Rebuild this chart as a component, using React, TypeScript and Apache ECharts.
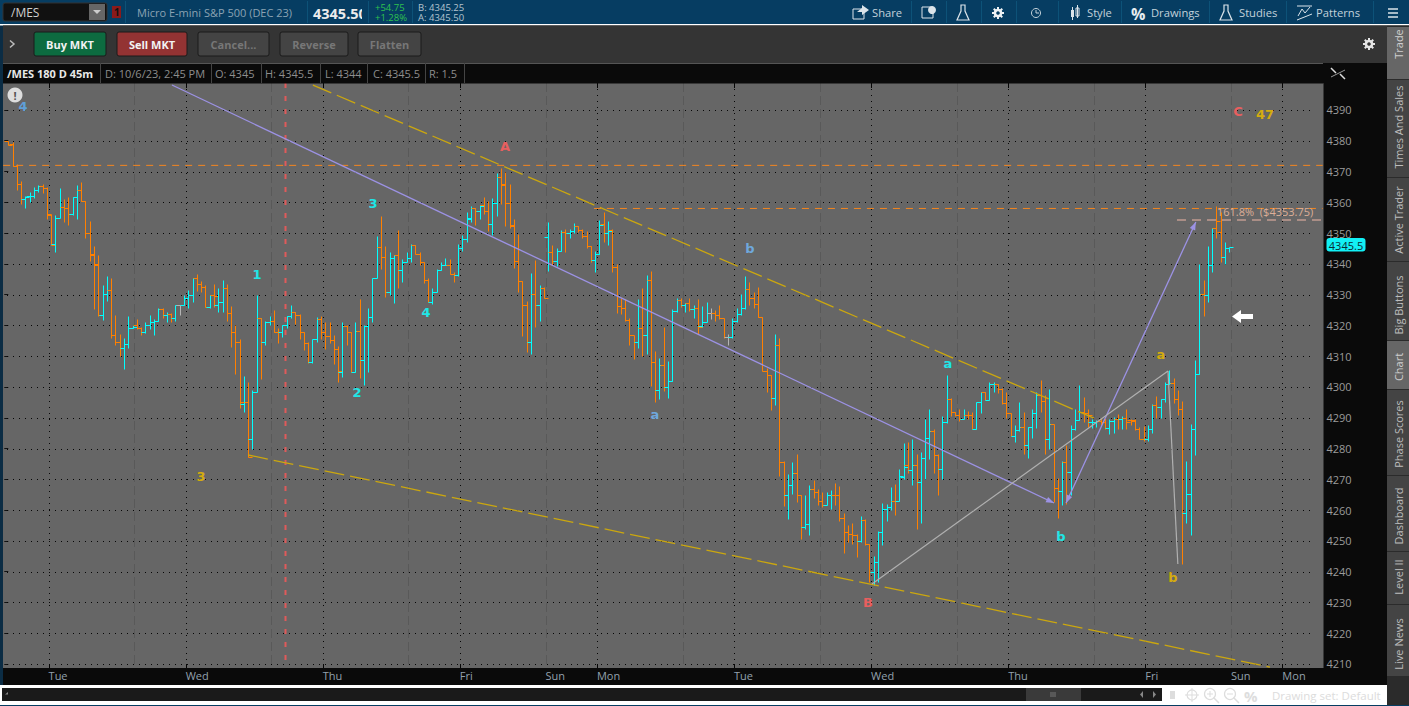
import React, { useEffect, useRef } from "react";
import * as echarts from "echarts";

type Bar = [number, number, number, number, string];
const o = "o", c = "c", g = "g";

// open, high, low, close, colour key
const barsWeek1A: Bar[] = [
[4380,4380,4378.5,4378.75,o],[4379,4379.5,4371.75,4371.75,o],[4371.75,4372.5,4364,4366,o],[4366,4367,4359.5,4361,o],
[4361,4362,4358,4361.75,c],[4362,4363.5,4360,4362,c],[4362,4365,4361.5,4364,c],[4364,4365.5,4363.5,4365.25,c],
[4365.25,4366,4363,4364.5,o],[4364.5,4365,4354.5,4356.25,o],[4356,4356.25,4346,4346.25,o],[4346.5,4355.75,4343.75,4355,c],
[4354.75,4364.75,4354.75,4358.5,c],[4358.5,4361,4353.75,4358,o],[4358,4361.75,4352.75,4356.25,o],[4356.25,4361.75,4356,4361.75,c],
[4361.75,4365.5,4354.5,4364,c],[4364,4366.75,4360.5,4360.5,o],[4360.5,4360.5,4348.25,4350,o],[4350,4354,4341,4343.25,o],
[4342.75,4345.75,4325.25,4340,o],[4339.75,4343,4323,4323.5,o],[4323.5,4333,4321.75,4330.25,c],[4330.25,4336,4328,4331.5,c],
[4331.5,4335.5,4316,4317,o],[4317,4323.5,4313.5,4314.75,o],[4314.5,4317.25,4310,4312.75,o],[4312.75,4316,4305.75,4314,c],
[4314,4323,4312.75,4319.25,c],[4319.25,4320,4319,4319.5,c],[4320,4322,4318.75,4319,o],[4319,4319.5,4317,4318,o],
[4318,4321,4317.5,4320,c],[4320,4323.5,4318.75,4321,c],[4321,4322,4317,4321.5,c],[4321.5,4325.5,4321.5,4325.25,c],
[4325.25,4325.75,4322.5,4323.5,o],[4323.5,4324.5,4321.25,4323.75,c],[4323.75,4324,4321.25,4322.5,o],[4322.5,4326.75,4321.5,4326.75,c],
[4326.75,4326.75,4323.5,4326.75,g],[4326.75,4330,4326.5,4329,c],[4329,4331.5,4325.5,4330,c],[4330,4335.5,4327.5,4335.5,c],
[4335.5,4336.75,4331.25,4333.5,o],[4333.5,4334.5,4330.75,4332.5,o],[4332.5,4333.25,4326,4326,o],[4326,4330,4325.5,4330,c],
[4330,4333.5,4326,4329.5,o],[4326.75,4332,4324.25,4327.5,c],[4327.75,4334.75,4324.25,4332,c],[4332,4333.5,4321.5,4324,o],
[4324,4326.25,4313,4318,o],
];
const barsWeek1B: Bar[] = [
[4318,4320,4304.25,4314.75,o],[4314.75,4315.75,4293.25,4295,o],[4294.5,4303.5,4292,4295.25,c],[4295,4301.5,4277.25,4277.25,o],
[4283,4299,4280,4298.25,c],[4298.25,4330,4298.25,4322.25,c],[4322.25,4322.25,4302.5,4314.75,o],[4314.75,4321.5,4313.5,4321.25,c],
[4321,4323,4320.25,4321.5,c],[4321.5,4325,4318,4318,o],[4318,4319.25,4314.25,4318,o],[4318,4320.25,4316.25,4320,c],
[4320,4323,4319.25,4323,c],[4323,4326.5,4322.25,4324.5,c],[4324.5,4324.5,4320.5,4323.25,o],[4323.25,4323.75,4315.5,4318,o],
[4318,4318,4312,4314.25,o],[4314.25,4314.75,4307.75,4308,o],[4308,4315.75,4307.75,4315.5,c],[4315.5,4322.75,4314.5,4322,c],
[4322,4323,4315.5,4317.75,o],[4317.75,4321.25,4312.25,4316.5,o],[4316.5,4321.25,4314.25,4315.25,o],[4315.25,4316.75,4307.5,4312.25,o],
[4312.25,4313.25,4301.5,4305.25,o],[4305,4321.25,4303.25,4319.75,c],[4319.75,4320.25,4313.5,4317.75,o],[4317.75,4317.75,4305,4305,o],
[4305,4321.25,4305,4318.25,c],[4318.25,4328.5,4303,4308.75,o],[4308.75,4320,4300.5,4319.75,c],[4319.75,4325.5,4305,4322.75,c],
[4322.75,4335.5,4321,4335.5,c],[4335.5,4349,4335.5,4345.5,c],[4345.5,4355.5,4338.25,4342.25,o],[4342.25,4345.75,4329.25,4330.75,o],
[4330.75,4344,4330,4341.75,c],[4341.75,4343,4327.25,4342.75,c],[4342.75,4351,4332.25,4338,o],[4338,4341.5,4334.25,4340.75,c],
[4340.75,4343.75,4340.5,4341.75,c],[4341.75,4346.5,4340.5,4346.25,c],[4346.25,4346.25,4343.25,4343.25,o],[4343.25,4344,4339.75,4340.5,o],
[4340.5,4340.5,4333.75,4334.75,o],[4334.75,4335.25,4327.5,4327.75,o],[4327.75,4332,4327,4331,c],[4331,4338.25,4331,4338,c],
[4338,4340.5,4338,4339.5,c],[4339.5,4341.75,4339.5,4339.75,c],[4339.75,4341.5,4336.75,4336.75,o],[4336.75,4337.5,4334.25,4336.25,o],
[4336.25,4346.5,4336,4345,c],[4345,4349.25,4344.25,4348,c],[4348,4357,4347.25,4354.5,c],
];
const barsFriSun: Bar[] = [
[4354.75,4358.75,4353.5,4358,c],[4358,4358,4352.5,4357.25,o],[4357.25,4359,4354.5,4358.75,c],[4359,4361.75,4356.25,4357.25,o],
[4357.25,4360.5,4350.75,4353,o],[4353,4361.25,4349.5,4359.75,c],[4359.75,4369.5,4355.5,4368.25,c],[4368.25,4371,4359.5,4365.75,o],
[4366,4370,4352.25,4359.75,o],[4359.75,4366,4351.5,4352.25,o],[4352.5,4354.5,4338.5,4341,o],[4341,4349.75,4330.75,4334.5,o],
[4334.5,4334.5,4316.5,4326.75,o],[4326.75,4328,4311.5,4314.75,o],[4314.75,4337,4310.75,4330.25,c],[4330.25,4341.25,4319.5,4326.5,o],
[4326.5,4333,4321.5,4332.25,c],[4332.25,4332.5,4329,4329,o],
[4348.75,4353.75,4337.75,4343.75,c],[4343.75,4346.25,4339.5,4341,o],[4341,4345.25,4339.25,4344.25,c],[4344.25,4351,4344.25,4350.25,c],
[4350.25,4351.25,4343.75,4350,o],[4350,4351.25,4348.5,4350.75,c],[4350.75,4353.25,4350,4352.25,c],[4352.25,4352.25,4350.25,4351,o],
[4351,4351.25,4348.25,4349,o],[4349,4350.75,4345,4345.75,o],[4345.75,4345.75,4340.75,4341.25,o],[4341.25,4344.25,4337.25,4343.25,c],
[4343.25,4354.25,4343.25,4352.75,c],[4353,4356.75,4347,4350,o],[4350,4354,4346.25,4350.75,c],[4351,4351.25,4337.5,4339,o],
[4339,4340,4324,4326.25,o],[4326.25,4329,4323.75,4325.75,o],[4325.75,4328.5,4321.5,4321.75,o],[4321.75,4322.25,4313.5,4317,o],
[4317,4317,4309.25,4314.75,o],[4314.75,4328.5,4312.75,4319,c],[4319,4332,4310,4317,o],[4317,4336.5,4310.75,4334.75,c],
[4334.75,4337.75,4300.25,4308,o],[4308,4311.75,4295,4299,o],[4299,4309.5,4296.25,4307.25,c],[4307.25,4319.5,4298.75,4300,o],
[4300,4308.5,4296.5,4302,c],[4302,4325.25,4302,4324.75,c],[4324.75,4329,4324.25,4328.25,c],
];
const barsWeek2A: Bar[] = [
[4328.25,4328.75,4326.1,4326.5,o],[4326.5,4327.25,4324.5,4327.25,c],[4327.25,4329,4324.75,4325.25,o],[4325.25,4326.75,4322.5,4325.5,c],
[4325.5,4328.5,4317.25,4319.5,o],[4319.75,4326.25,4319.5,4321,c],[4321,4327.5,4321,4324,c],[4324,4325.75,4322,4324,g],
[4324,4325,4321.5,4323.5,o],[4323.5,4326.75,4322,4322.25,o],[4322.25,4322.25,4316,4316.25,o],[4316.25,4317.25,4313.5,4316.25,g],
[4316.25,4322.25,4316,4321.5,c],[4321.5,4325.5,4321.25,4323.75,c],[4323.75,4330.25,4323.5,4325.5,c],[4325.5,4336,4325.25,4331.75,c],
[4331.75,4334,4326.75,4329,o],[4329,4330.75,4325.75,4327,o],[4327,4332.5,4322.75,4322.75,o],[4322.75,4322.75,4305.25,4305.25,o],
[4305.25,4306.25,4298.5,4303.75,o],[4303.75,4303.75,4292.5,4296.5,o],[4296.5,4317.25,4294,4313.75,c],[4313.75,4316,4271,4275.75,o],
[4275.75,4276,4261.25,4265,o],[4265,4271.75,4257,4268.25,c],[4268.25,4275.75,4265.25,4272,c],[4272,4278.25,4262.5,4265,o],
[4265,4265,4250.75,4254.5,o],[4254.5,4265,4254,4255.5,c],[4255.5,4268,4252,4267,c],[4267,4269.75,4264,4265.75,o],
[4265.75,4267,4261.75,4263,o],[4263,4265.75,4261,4261.75,o],[4261.75,4265.75,4261.5,4265,c],[4265,4266.5,4260.5,4265,c],
[4265,4268.75,4261.5,4265,o],[4265,4267.75,4256.5,4257.5,o],[4257.5,4259,4246,4252.75,o],[4252.75,4255.25,4249.75,4252.25,o],
[4252.25,4255.75,4249,4252,o],[4252,4252.25,4244.75,4250,o],[4250,4258,4249.5,4256.75,c],[4256.75,4257.25,4248.5,4249,o],
[4249,4249,4236.75,4239.75,o],[4239.75,4245.25,4235.75,4243.25,c],[4243.25,4253.25,4236.5,4253,c],[4253,4262.25,4248.5,4260.5,c],
[4260.5,4262,4256.5,4261,c],[4261,4267.5,4260,4263,c],[4263,4268.5,4258.25,4263,o],[4263,4273.5,4263,4271,c],
[4270.75,4281.75,4270.25,4274,c],[4274.5,4282,4272,4273,o],
];
const barsWeek2B: Bar[] = [
[4273,4283,4268,4274.75,c],[4274.75,4278.25,4254,4269.25,o],[4269.25,4278.75,4255.75,4277,c],[4277,4289.5,4270.25,4283.5,c],
[4283.5,4293,4276.5,4285.75,c],[4285.75,4286.25,4272,4277.75,o],[4277.75,4278.25,4264.75,4273.5,o],[4273.5,4290.5,4270,4288.5,c],
[4288.5,4303.75,4288.25,4296.25,c],[4296.25,4296.5,4290.5,4292,o],[4292,4292,4290.5,4291,o],[4291,4292.75,4289,4289.75,o],
[4289.75,4292.75,4289.75,4291,c],[4291,4292.25,4289.75,4290.75,o],[4290.75,4292,4286.25,4286.5,o],[4286.5,4295.25,4286.5,4295,c],
[4295,4298.5,4291.5,4298.25,c],[4298.25,4298.25,4295.75,4295.75,o],[4295.75,4301.75,4295.75,4301,c],[4301,4301.5,4298.5,4301,c],
[4301,4301,4298,4299.25,o],[4299.25,4299.75,4294.5,4294.75,o],[4294.75,4298.25,4290,4291.5,o],[4291.5,4291.5,4284,4284,o],
[4284,4287.75,4282,4286,c],[4286,4295.25,4285.75,4287,c],[4287,4292,4278.25,4281.25,o],[4281.25,4287,4277,4287,c],
[4287,4292.75,4283.5,4291.5,c],[4291.5,4298.25,4286.75,4297.5,c],[4297.5,4302.25,4291.75,4295.5,o],[4295.5,4297.25,4278.25,4283.25,o],
[4283.25,4299.5,4279.75,4288,c],[4288,4288,4262.5,4267.25,o],[4267.25,4270.5,4257.5,4266.25,o],[4266.25,4276,4261.5,4275.5,c],
[4275.5,4281,4262,4272.5,o],[4272.5,4287.5,4264.75,4286.5,c],[4286.5,4292.75,4286,4289.25,c],[4289.25,4300.5,4289.25,4292,c],
[4292,4296.75,4288.5,4291.5,o],[4291.5,4292.75,4287,4291,o],[4288.75,4289.5,4286.75,4288.75,c],[4288.75,4289.25,4287,4289,c],
[4289,4290,4287.5,4288.75,o],[4288.75,4290,4286.5,4286.75,o],[4286.75,4289.5,4284.75,4289,c],[4289,4290.25,4285,4289.75,c],
[4289.75,4291.25,4286.25,4289.75,o],[4289.75,4290.5,4286.5,4290,c],[4290,4292.75,4286.25,4288.5,o],
];
const barsFinal: Bar[] = [
[4289.25,4289.75,4287.5,4289.25,o],[4289,4289.5,4286,4286.5,o],[4286.5,4287,4283,4283.25,o],[4283.25,4287.25,4282.5,4283,o],
[4283,4287.75,4282.5,4286.5,c],[4286.5,4294.5,4285,4294.25,c],[4294.25,4297,4290,4293.5,o],[4293.5,4296.25,4290,4296,c],
[4296,4301.5,4295.25,4301,c],[4301,4305.5,4301,4301.25,c],[4301.25,4303,4294.75,4296.25,o],[4296.25,4299,4290.75,4293,o],
[4293,4295.5,4242.5,4259,o],[4259,4276,4255.75,4265.25,c],[4265.25,4288,4251.75,4286.25,c],[4286.25,4308.75,4278,4304.25,c],
[4304.25,4340,4304.25,4330.25,c],[4330.25,4334.75,4323,4329.75,o],[4329.75,4345.75,4327.5,4339.5,c],[4339.5,4351.75,4337.25,4351.75,c],
[4351.75,4358.75,4348.5,4354,o],[4350.5,4356.75,4340.5,4342.25,o],[4342.25,4347,4340,4345.25,c],[4345,4345.5,4344,4345.5,c],
];

const dayLabels = ["Tue","Wed","Thu","Fri","Sun","Mon","Tue","Wed","Thu","Fri","Sun","Mon"];
const dayIndex = [9.4,41.4,73.4,105.4,125.4,137.4,169.4,201.4,233.4,265.4,285.4,297.4];
const dayDotted = [9.4,41.4,73.4,105.4,137.4,169.4,201.4,233.4,265.4,297.4];
const sessionDashed = [29.4,61.4,93.4,125.4,157.4,189.4,221.4,253.4,285.4];
const tickPrices = [4210,4220,4230,4240,4250,4260,4270,4280,4290,4300,4310,4320,4330,4340,4350,4360,4370,4380,4390];
const redLineIndex = 64.7;

// x1, price1, x2, price2, style name
const trendLines: [number, number, number, number, string][] = [
  [56, 4277.9, 294.5, 4209, "yellow"],
  [71.1, 4398.1, 253.4, 4289.9, "yellow"],
  [-1.2, 4372, 306.8, 4372, "orange"],
  [136.7, 4358, 306.8, 4358, "orange"],
  [272.8, 4354.25, 306.8, 4354.25, "salmon"],
  [38.2, 4398.1, 244.1, 4262.3, "purpleEnd"],
  [246.9, 4262.3, 277.2, 4353.6, "purpleBoth"],
  [201.6, 4236, 270.7, 4305.2, "gray"],
  [270.7, 4305.2, 273, 4242.5, "gray"],
];
const trendStyles: any = {
  yellow: { stroke: "#cba70f", lineWidth: 1.3, lineDash: [20, 6] },
  orange: { stroke: "#f5861f", lineWidth: 1, lineDash: [7, 6] },
  salmon: { stroke: "#eeb5a5", lineWidth: 1, lineDash: [9, 6] },
  purpleEnd: { stroke: "#9c92e4", lineWidth: 1.3, arrowEnd: true },
  purpleBoth: { stroke: "#9c92e4", lineWidth: 1.3, arrowEnd: true, arrowStart: true },
  gray: { stroke: "#b0b0b0", lineWidth: 1.2 },
};

const waveLabels: [string, number, number, string][] = [
  ["4", 23, 106, "#5f9fd8"], ["A", 505, 146, "#e85f5f"], ["C", 1238, 111, "#e85f5f"], ["47", 1265, 114, "#d4ac0d"],
  ["1", 257, 274, "#1fe6e6"], ["2", 357, 392, "#1fe6e6"], ["3", 373, 203, "#1fe6e6"], ["4", 426, 312, "#1fe6e6"],
  ["3", 201, 476, "#d4ac0d"], ["a", 655, 414, "#6fa8dc"], ["b", 750, 248, "#6fa8dc"], ["a", 948, 363, "#1fe6e6"],
  ["b", 1061, 536, "#1fe6e6"], ["B", 868, 602, "#e85f5f"], ["a", 1161, 354, "#d4ac0d"], ["b", 1173, 577, "#d4ac0d"],
];

const infoCells: [string, number][] = [
  ["D: 10/6/23, 2:45 PM", 105], ["O: 4345", 215], ["H: 4345.5", 265], ["L: 4344", 325], ["C: 4345.5", 373], ["R: 1.5", 429],
];
const sideTabs: [string, number, number, number, boolean][] = [
  ["Trade", 27, 79, 44, true], ["Times And Sales", 80, 177, 127, false], ["Active Trader", 178, 261, 220, false],
  ["Big Buttons", 262, 340, 305, false], ["Chart", 341, 389, 367, true], ["Phase Scores", 390, 475, 434, false],
  ["Dashboard", 476, 551, 516, false], ["Level II", 552, 604, 577, false], ["Live News", 605, 676, 644, false],
];
const toolbarLabels: [string, number][] = [["Share", 872], ["Style", 1087], ["Drawings", 1151], ["Studies", 1239], ["Patterns", 1316]];
const toolbarSeparators = [125, 307, 368, 412, 911, 946, 981, 1016, 1058, 1121, 1209, 1286, 1373];
const actionButtons: [string, number, number, string, string][] = [
  ["Buy MKT", 34, 72, "#0d6b40", "#f2f2f2"], ["Sell MKT", 117, 70, "#933333", "#f2f2f2"],
  ["Cancel...", 198, 71, "#444444", "#777777"], ["Reverse", 280, 68, "#444444", "#777777"], ["Flatten", 358, 63, "#444444", "#777777"],
];

const FONT = '"Open Sans","Noto Sans",sans-serif';
const T = (text: string, x: number, y: number, fill: string, size = 11, weight: any = "normal", extra: any = {}, family = FONT, rotation = 0) => ({
  type: "text", x, y, rotation, silent: true,
  style: { text, fill, fontSize: size, fontWeight: weight, fontFamily: family, verticalAlign: "middle", align: "left", ...extra },
});
const R = (x: number, y: number, w: number, h: number, fill: string, r = 0, stroke?: string) => ({
  type: "rect", silent: true, shape: { x, y, width: w, height: h, r }, style: stroke ? { fill, stroke, lineWidth: 1 } : { fill },
});
const L = (x1: number, y1: number, x2: number, y2: number, stroke: string, lineWidth = 1) => ({
  type: "line", silent: true, shape: { x1, y1, x2, y2 }, style: { stroke, lineWidth },
});
const gear = (cx: number, cy: number, r: number, col: string) => {
  const out: any[] = [{ type: "ring", silent: true, shape: { cx, cy, r: r * 0.72, r0: r * 0.3 }, style: { fill: col } }];
  for (let k = 0; k < 4; k++) {
    const a = (k * Math.PI) / 4;
    out.push(L(cx - r * Math.cos(a), cy - r * Math.sin(a), cx + r * Math.cos(a), cy + r * Math.sin(a), col, 2));
  }
  out.push({ type: "circle", silent: true, shape: { cx, cy, r: r * 0.3 }, style: { fill: "#063d62" } });
  return out;
};

function chrome() {
  const g: any[] = [];
  // left strip and top bar
  g.push(R(0, 0, 3, 706, "#0b2c44"));
  g.push(R(0, 0, 1409, 24, "#063d62"));
  g.push(R(0, 24, 1409, 1.5, "#ffffff"));
  g.push(R(3, 3, 104, 18, "#111111", 2, "#333333"));
  g.push(T("/MES", 11, 12, "#cfcfcf", 12));
  g.push(R(89, 4, 16, 16, "#666666"));
  g.push({ type: "polygon", silent: true, shape: { points: [[93, 10], [101, 10], [97, 14]] }, style: { fill: "#cccccc" } });
  g.push(R(112, 6, 9, 12, "#8b1a1a"));
  g.push(T("1", 114, 12, "#111111", 10, "bold"));
  g.push(T("Micro E-mini S&P 500 (DEC 23)", 137, 12, "#8ba3b3", 11));
  g.push(T("4345.50", 313, 13, "#ececec", 14.5, "bold"));
  g.push(R(362, 0, 6, 24, "#063d62"));
  g.push(T("+54.75\n+1.28%", 375, 12.5, "#2fc14f", 9.5, "normal", { lineHeight: 9.5 }));
  g.push(T("B: 4345.25\nA: 4345.50", 418, 12.5, "#b5c4ce", 9.5, "normal", { lineHeight: 9.5 }));
  toolbarSeparators.forEach((x) => g.push(L(x + 0.5, 1, x + 0.5, 23, "#0d5278")));
  toolbarLabels.forEach(([t, x]) => g.push(T(t, x, 12.5, "#c3d2db", 11.2)));
  // toolbar icons
  g.push(R(853, 9, 11, 10, "none", 0, "#dbe4ea"));
  g.push({ type: "polygon", silent: true, shape: { points: [[857, 12], [862, 8], [862, 5], [869, 10], [862, 15], [862, 12]] }, style: { fill: "#dbe4ea" } });
  g.push(R(922, 7, 11, 11, "none", 0, "#dbe4ea"));
  g.push({ type: "circle", silent: true, shape: { cx: 932, cy: 10, r: 4 }, style: { fill: "#dbe4ea" } });
  [963, 1226].forEach((x) =>
    g.push({ type: "polygon", silent: true, shape: { points: [[x - 2, 5], [x + 2, 5], [x + 2, 11], [x + 6, 20], [x - 6, 20], [x - 2, 11]] }, style: { fill: "none", stroke: "#dbe4ea", lineWidth: 1.2 } }),
  );
  g.push(...gear(998, 13, 6, "#eef2f5"));
  g.push({ type: "circle", silent: true, shape: { cx: 1036, cy: 13, r: 4.5 }, style: { fill: "none", stroke: "#c3d2db" } });
  g.push(L(1036, 10, 1036, 13, "#c3d2db"), L(1036, 13, 1039, 13, "#c3d2db"));
  g.push(R(1071, 10, 3, 7, "#dbe4ea"), R(1076, 8, 3, 8, "none", 0, "#dbe4ea"), L(1072.5, 7, 1072.5, 20, "#dbe4ea"), L(1077.5, 5, 1077.5, 18, "#dbe4ea"));
  g.push(T("%", 1131, 14, "#e6edf1", 16, "bold"));
  g.push({ type: "polyline", silent: true, shape: { points: [[1298, 16], [1302, 9], [1305, 13], [1310, 7]] }, style: { fill: "none", stroke: "#dbe4ea" } });
  g.push(L(1297, 6, 1312, 6, "#dbe4ea"), L(1297, 20, 1312, 14, "#dbe4ea"));
  [9, 13, 17].forEach((y) => g.push(L(1388, y, 1398, y, "#dbe4ea", 1.5)));
  // action strip
  g.push(R(3, 25.5, 1384, 37.5, "#343434"));
  g.push({ type: "polyline", silent: true, shape: { points: [[10, 40.5], [14, 44], [10, 47.5]] }, style: { fill: "none", stroke: "#bbbbbb", lineWidth: 1.5 } });
  actionButtons.forEach(([t, x, w, fill, col]) => {
    g.push(R(x, 32, w, 24, fill, 2, "#1a1a1a"));
    g.push(T(t, x + w / 2, 44.5, col, 11, "bold", { align: "center" }));
  });
  g.push(...gear(1369, 44, 6, "#e6e6e6").map((e, k, a) => (k === a.length - 1 ? { ...e, style: { fill: "#343434" } } : e)));
  // info strip
  g.push(R(3, 63, 1320.5, 20.5, "#0a0a0a"));
  g.push(L(3, 63.5, 1323, 63.5, "#555555"));
  g.push(T("/MES 180 D 45m", 7, 73, "#e8e8e8", 11, "bold"));
  infoCells.forEach(([t, x]) => g.push(T(t, x, 73, "#8d8d8d", 11)));
  [100, 211, 261, 320, 367, 425, 464].forEach((x) => g.push(L(x + 0.5, 63, x + 0.5, 83, "#444444")));
  // expand icon
  g.push(L(1331, 68, 1336, 73, "#dddddd", 1.5), L(1345, 79, 1340, 74, "#dddddd", 1.5), L(1331, 77, 1345, 70, "#999999", 1));
  // side tabs
  g.push(R(1387, 25.5, 22, 680, "#2b2b2b"));
  sideTabs.forEach(([t, y0, y1, cy, on]) => {
    g.push(R(1387, y0, 22, y1 - y0, on ? "#666666" : "#444444"));
    g.push(T(t, 1398, cy, on ? "#cfcfcf" : "#bdbdbd", 11, "normal", { align: "center" }, FONT, Math.PI / 2));
  });
  // bottom bar
  g.push(R(0, 685, 1387, 20, "#ffffff"));
  g.push(R(2, 688, 1160, 13, "#1a1a1a"));
  g.push(R(1026, 688, 55, 13, "#3a3a3a"));
  [1051, 1053, 1055].forEach((x) => g.push(L(x, 692, x, 697, "#777777")));
  g.push({ type: "polygon", silent: true, shape: { points: [[8, 694.5], [5, 694.5], [8, 692]] }, style: { fill: "#888888" } });
  g.push({ type: "polygon", silent: true, shape: { points: [[1143, 691], [1143, 698], [1140, 694.5]] }, style: { fill: "#888888" } });
  g.push({ type: "polygon", silent: true, shape: { points: [[1153, 691], [1153, 698], [1156, 694.5]] }, style: { fill: "#888888" } });
  g.push(R(0, 705, 1409, 1, "#063d62"));
  // faint tool icons
  g.push(R(1170, 691, 5, 8, "#dddddd"));
  g.push({ type: "circle", silent: true, shape: { cx: 1192, cy: 695, r: 5 }, style: { fill: "none", stroke: "#dddddd", lineWidth: 1.2 } });
  g.push(L(1185, 695, 1199, 695, "#dddddd"), L(1192, 688, 1192, 702, "#dddddd"));
  [1210, 1230].forEach((x) => {
    g.push({ type: "circle", silent: true, shape: { cx: x, cy: 694, r: 5.5 }, style: { fill: "none", stroke: "#dddddd", lineWidth: 1.2 } });
    g.push(L(x + 4, 698, x + 9, 703, "#dddddd", 1.5), L(x - 3, 694, x + 3, 694, "#dddddd"));
  });
  g.push(L(1210, 691, 1210, 697, "#dddddd"));
  g.push(T("%", 1244, 696, "#dddddd", 15, "bold"));
  g.push(T("Drawing set: Default", 1272, 695.5, "#dcdcdc", 11.5));
  // price tag
  g.push(R(1326.5, 238, 39, 13.5, "#12f0f5", 3));
  g.push(T("4345.5", 1346, 245, "#0b2b33", 11, "normal", { align: "center" }));
  // chart notes
  g.push(T("161.8%  ($4353.75)", 1217, 211, "#dcae97", 11));
  g.push({ type: "polygon", silent: true, shape: { points: [[1232, 316.5], [1241, 310], [1241, 314], [1253, 314], [1253, 319], [1241, 319], [1241, 323]] }, style: { fill: "#ffffff" } });
  g.push({ type: "circle", silent: true, shape: { cx: 15, cy: 95, r: 7.5 }, style: { fill: "#dedede" } });
  g.push(T("!", 15, 95, "#555555", 11, "bold", { align: "center" }));
  waveLabels.forEach(([t, x, y, col]) => g.push(T(t, x, y, col, 13, "bold", { align: "center" }, '"DejaVu Sans",sans-serif')));
  return g.map((e) => ({ ...e, z: 100 }));
}

const colorOf: any = { o: "#ff8000", c: "#00ffff", g: "#b4b4b4" };

export default function App() {
  const ref = useRef<HTMLDivElement>(null);
  useEffect(() => {
    document.body.style.margin = "0";
    document.body.style.background = "#0a0a0a";
    const chart = echarts.init(ref.current!, undefined, { renderer: "svg" });
    const all = [...barsWeek1A, ...barsWeek1B, ...barsFriSun, ...barsWeek2A, ...barsWeek2B, ...barsFinal];
    const barData = all.map((b, i) => [i, b[0], b[1], b[2], b[3], b[4]]);

    const guideData: any[] = [
      ...tickPrices.map((p) => ["h", p]),
      ...dayDotted.map((x) => ["v", x]),
      ...sessionDashed.map((x) => ["s", x]),
      ["r", redLineIndex],
    ];
    const snap = (v: number) => Math.round(v) + 0.5;

    chart.setOption({
      animation: false,
      backgroundColor: "#0a0a0a",
      grid: { left: 3, top: 83, width: 1320.5, height: 585, show: true, backgroundColor: "#666666", borderWidth: 0 },
      xAxis: {
        type: "value", min: -1.237, max: 307,
        axisLine: { show: false }, splitLine: { show: false },
        axisTick: { show: false },
        axisLabel: {
          customValues: dayIndex, color: "#93a1ad", fontSize: 11, fontFamily: FONT, margin: 2, align: "left",
          formatter: (v: number) => dayLabels[dayIndex.indexOf(v)] ?? "",
        },
      },
      yAxis: {
        type: "value", min: 4208.7, max: 4398.76, position: "right",
        axisLine: { show: false }, splitLine: { show: false },
        axisTick: { show: true, inside: true, length: 4, customValues: tickPrices, lineStyle: { color: "#111111" } },
        axisLabel: { customValues: tickPrices, color: "#9b9b9b", fontSize: 11, fontFamily: FONT, margin: 3, formatter: (v: number) => String(v) },
      },
      series: [
        {
          type: "custom", name: "guides", coordinateSystem: "cartesian2d", silent: true, z: 1, clip: true,
          data: guideData,
          renderItem: (params: any, api: any) => {
            const kind = guideData[params.dataIndex][0];
            const v = guideData[params.dataIndex][1];
            const cs = params.coordSys;
            if (kind === "h") {
              const y = snap(api.coord([0, v])[1]);
              return { type: "line", shape: { x1: cs.x + 4, y1: y, x2: cs.x + cs.width - 13, y2: y }, style: { stroke: "#050505", lineWidth: 1, lineDash: [1, 5] } };
            }
            const x = snap(api.coord([v, 4300])[0]);
            if (kind === "v") {
              return {
                type: "group",
                children: [
                  { type: "line", shape: { x1: x, y1: cs.y, x2: x, y2: cs.y + cs.height }, style: { stroke: "#050505", lineWidth: 1, lineDash: [1, 5] } },
                  { type: "line", shape: { x1: x, y1: cs.y, x2: x, y2: cs.y + 5 }, style: { stroke: "#050505", lineWidth: 1 } },
                  { type: "line", shape: { x1: x, y1: cs.y + cs.height - 4, x2: x, y2: cs.y + cs.height }, style: { stroke: "#050505", lineWidth: 1 } },
                ],
              };
            }
            if (kind === "s") {
              return { type: "line", shape: { x1: x, y1: cs.y, x2: x, y2: cs.y + cs.height }, style: { stroke: "#595959", lineWidth: 1, lineDash: [9, 4] } };
            }
            return { type: "line", shape: { x1: x, y1: cs.y, x2: x, y2: cs.y + cs.height - 8 }, style: { stroke: "#e05a5a", lineWidth: 2, lineDash: [5, 8] } };
          },
        },
        {
          type: "custom", name: "bars", coordinateSystem: "cartesian2d", silent: true, z: 2, clip: true,
          encode: { x: 0, y: [1, 2, 3, 4] },
          data: barData,
          renderItem: (params: any, api: any) => {
            const row = barData[params.dataIndex] as any[];
            const x = snap(api.coord([row[0], row[1]])[0]);
            const yO = snap(api.coord([row[0], row[1]])[1]);
            const yH = snap(api.coord([row[0], row[2]])[1]);
            const yL = snap(api.coord([row[0], row[3]])[1]);
            const yC = snap(api.coord([row[0], row[4]])[1]);
            const style = { stroke: colorOf[row[5]], lineWidth: 1 };
            return {
              type: "group",
              children: [
                { type: "line", shape: { x1: x, y1: yH, x2: x, y2: yL }, style },
                { type: "line", shape: { x1: x - 4, y1: yO, x2: x, y2: yO }, style },
                { type: "line", shape: { x1: x, y1: yC, x2: x + 4, y2: yC }, style },
              ],
            };
          },
        },
        {
          type: "custom", name: "drawings", coordinateSystem: "cartesian2d", silent: true, z: 3, clip: true,
          data: trendLines.map((t) => [t[0], t[1], t[2], t[3]]),
          renderItem: (params: any, api: any) => {
            const t = trendLines[params.dataIndex];
            const s = trendStyles[t[4]];
            const a = api.coord([t[0], t[1]]);
            const b = api.coord([t[2], t[3]]);
            const children: any[] = [
              { type: "line", shape: { x1: a[0], y1: a[1], x2: b[0], y2: b[1] }, style: { stroke: s.stroke, lineWidth: s.lineWidth, lineDash: s.lineDash } },
            ];
            const head = (p: number[], q: number[]) => {
              const ang = Math.atan2(p[1] - q[1], p[0] - q[0]);
              const len = 8, w = 3;
              const bx = p[0] - len * Math.cos(ang), by = p[1] - len * Math.sin(ang);
              children.push({
                type: "polygon",
                shape: { points: [p, [bx - w * Math.sin(ang), by + w * Math.cos(ang)], [bx + w * Math.sin(ang), by - w * Math.cos(ang)]] },
                style: { fill: s.stroke },
              });
            };
            if (s.arrowEnd) head(b, a);
            if (s.arrowStart) head(a, b);
            return { type: "group", children };
          },
        },
      ],
      graphic: { elements: chrome() },
    });
    return () => chart.dispose();
  }, []);
  return <div ref={ref} style={{ position: "fixed", left: 0, top: 0, width: 1409, height: 706 }} />;
}
